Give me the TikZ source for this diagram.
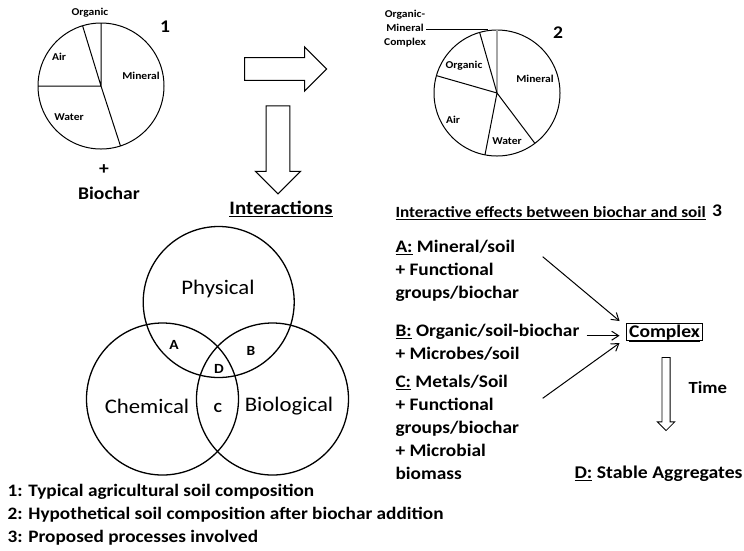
\documentclass[tikz,border=0pt]{standalone}
\usepackage{fontspec}
\setmainfont[FakeStretch=1.1]{Carlito}
\usetikzlibrary{shapes.arrows,arrows.meta}
\tikzset{
  pielbl/.style={font=\fontsize{10.5}{14}\selectfont\bfseries, inner sep=0pt},
  bigtxt/.style={font=\fontsize{17.8}{20}\selectfont\bfseries, inner sep=0pt},
  sidetxt/.style={font=\fontsize{17.6}{20}\selectfont\bfseries, anchor=west, inner sep=0pt, text height=12pt, text depth=3pt},
  legtxt/.style={font=\fontsize{17.5}{20}\selectfont\bfseries, anchor=west, inner sep=0pt, text height=12pt, text depth=3pt},
  vennlbl/.style={font=\fontsize{20.7}{24}\selectfont, inner sep=0pt},
  region/.style={font=\fontsize{14}{16}\selectfont\bfseries, inner sep=0pt},
  blockarrow/.style={single arrow, draw, line width=1pt, inner xsep=0pt, single arrow tip angle=90},
  thinarrow/.style={line width=1pt, -{Straight Barb[length=7pt,width=9pt]}},
}
\begin{document}
\begin{tikzpicture}[x=1pt,y=-1pt,line width=1pt]
\useasboundingbox (0,0) rectangle (744,550);
\coordinate (pie1) at (101,86);
\draw (pie1) circle[radius=63pt];
\draw (pie1) -- +(-90:63) (pie1) -- +(-107:63) (pie1) -- +(180:63) (pie1) -- +(72:63);
\node[pielbl] (org1) at (90,13) {Organic};
\node[pielbl] (air1) at (59,57) {Air};
\node[pielbl] (min1) at (141,76) {Mineral};
\node[pielbl] (wat1) at (69,117) {Water};
\node[bigtxt] (num1) at (165,27) {1};
\node[bigtxt] (plus) at (104,170) {+};
\node[bigtxt] (biochar) at (109,193) {Biochar};

\coordinate (pie2) at (497,93);
\draw (pie2) circle[radius=63pt];
\draw[gray!70, line width=2pt] (pie2) -- +(-90:63);
\draw (pie2) -- +(-106:63) (pie2) -- +(-164:63) (pie2) -- +(101:63) (pie2) -- +(53:63);
\node[pielbl, align=center] (omc) at (405,29) {Organic-\\Mineral\\Complex};
\coordinate (omctip) at (488,29);
\draw (omc.east) -- (omctip);
\node[pielbl] (org2) at (464,66) {Organic};
\node[pielbl] (min2) at (535,79) {Mineral};
\node[pielbl] (air2) at (453,120) {Air};
\node[pielbl] (wat2) at (507,141) {Water};
\node[bigtxt] (num2) at (558,33) {2};

\node[blockarrow, minimum height=82pt, inner ysep=10.8pt, single arrow head extend=10.8pt] (rarrow) at (280,69) {};
\node[blockarrow, rotate=-90, minimum height=88pt, inner ysep=11.3pt, single arrow head extend=10.8pt] (darrow) at (278,144) {};
\node[font=\fontsize{19}{22}\selectfont\bfseries, inner sep=0pt] (inter) at (281,209) {\underline{Interactions}};

\draw[line width=1.3pt] (218.7,302) circle[radius=75.5pt];
\draw[line width=1.3pt] (162.5,399) circle[radius=76pt];
\draw[line width=1.3pt] (272.5,399) circle[radius=76pt];
\node[vennlbl] (phys) at (218,289) {Physical};
\node[vennlbl] (chem) at (147,406) {Chemical};
\node[vennlbl] (bio) at (289,406) {Biological};
\node[region] (ra) at (174,345) {A};
\node[region] (rb) at (251,351) {B};
\node[region] (rd) at (219,369) {D};
\node[region] (rc) at (218,408) {C};

\node[font=\fontsize{15.6}{18}\selectfont\bfseries, anchor=west, inner sep=0pt] (effects) at (395,213) {\underline{Interactive effects between biochar and soil}};
\node[bigtxt] (num3) at (717,211) {3};

\node[sidetxt] (a1) at (395,248) {\underline{A:} Mineral/soil};
\node[sidetxt] (a2) at (395,271) {+ Functional};
\node[sidetxt] (a3) at (395,294) {groups/biochar};
\node[sidetxt] (b1) at (395,332) {\underline{B:} Organic/soil-biochar};
\node[sidetxt] (b2) at (395,355) {+ Microbes/soil};
\node[sidetxt] (c1) at (395,383) {\underline{C:} Metals/Soil};
\node[sidetxt] (c2) at (395,406) {+ Functional};
\node[sidetxt] (c3) at (395,429) {groups/biochar};
\node[sidetxt] (c4) at (395,452) {+ Microbial};
\node[sidetxt] (c5) at (395,475) {biomass};

\node[draw, line width=1.2pt, font=\fontsize{17.8}{20}\selectfont\bfseries, inner xsep=3pt, inner ysep=1.5pt, text height=12.5pt, text depth=2pt] (cplx) at (664.5,332) {\underline{Complex}};
\coordinate (astart) at (542.7,256.7);
\coordinate (bstart) at (586.7,335.7);
\coordinate (cstart) at (542.7,398.3);
\draw[thinarrow] (astart) -- ([shift={(-6,-11)}]cplx.west);
\draw[thinarrow] (bstart) -- ([shift={(-6,3.7)}]cplx.west);
\draw[thinarrow] (cstart) -- ([shift={(-6,11)}]cplx.west);

\node[blockarrow, rotate=-90, line width=0.8pt, minimum height=73pt, inner ysep=3.7pt, single arrow head extend=4.6pt] (tarrow) at (666,392) {};
\node[sidetxt, font=\fontsize{17}{20}\selectfont\bfseries] (time) at (688,389) {Time};
\node[sidetxt, font=\fontsize{17.9}{20}\selectfont\bfseries] (stable) at (574,474) {\underline{D:} Stable Aggregates};

\node[legtxt] (leg1) at (7,492) {1: Typical agricultural soil composition};
\node[legtxt] (leg2) at (7,515) {2: Hypothetical soil composition after biochar addition};
\node[legtxt] (leg3) at (7,538) {3: Proposed processes involved};
\end{tikzpicture}
\end{document}
